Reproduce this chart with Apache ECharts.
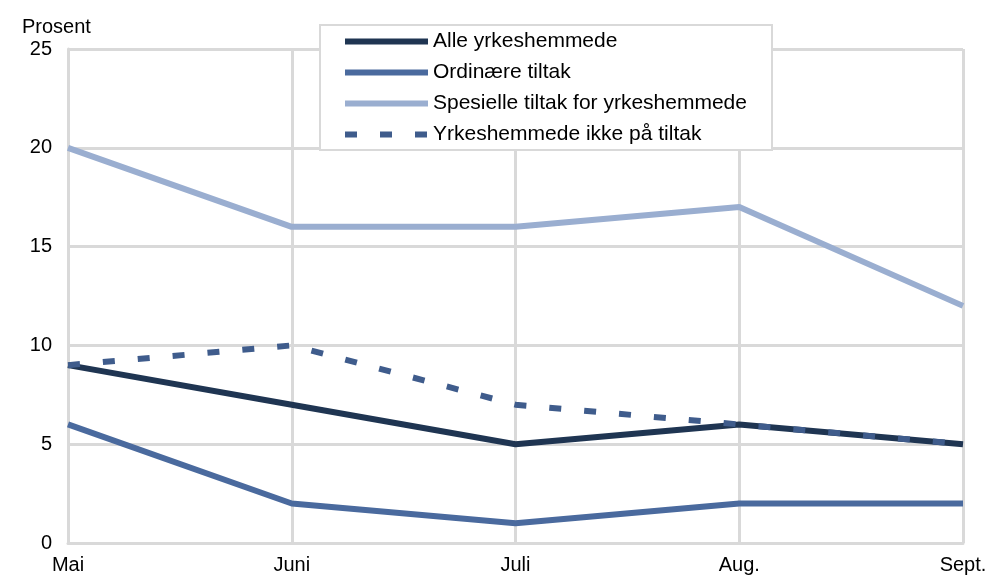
<!DOCTYPE html>
<html>
<head>
<meta charset="utf-8">
<script src="https://cdn.jsdelivr.net/npm/echarts@6/dist/echarts.min.js"></script>
<style>
html, body { margin: 0; padding: 0; background: #fff; }
#chart { width: 990px; height: 579px; }
</style>
</head>
<body>
<div id="chart"></div>
<script>
// data
var months = ['Mai', 'Juni', 'Juli', 'Aug.', 'Sept.'];
var alleYrkeshemmede = [9, 7, 5, 6, 5];
var ordinaereTiltak = [6, 2, 1, 2, 2];
var spesielleTiltak = [20, 16, 16, 17, 12];
var ikkePaTiltak = [9, 10, 7, 6, 5];

var gridColor = '#d9d9d9';
var font = 'Liberation Sans, Arial, sans-serif';

var chart = echarts.init(document.getElementById('chart'));
chart.setOption({
    animation: false,
    textStyle: { fontFamily: font },
    title: {
        text: 'Prosent',
        left: 17,
        top: 12,
        textStyle: { fontSize: 20, fontWeight: 'normal', color: '#000', fontFamily: font }
    },
    grid: {
        left: 68,
        right: 27,
        top: 49,
        bottom: 36
    },
    // ramme rundt legend
    graphic: [{
        type: 'rect',
        z: 3,
        shape: { x: 320, y: 25, width: 452, height: 125 },
        style: { fill: '#fff', stroke: gridColor, lineWidth: 2 }
    }],
    legend: {
        z: 10,
        orient: 'vertical',
        left: 342,
        top: 31,
        padding: 0,
        itemWidth: 83,
        itemHeight: 20,
        itemGap: 10,
        // bare linja, ingen symbol
        itemStyle: { color: 'rgba(0,0,0,0)', borderWidth: 0, opacity: 0 },
        lineStyle: { width: 6 },
        textStyle: { fontSize: 21, lineHeight: 20, color: '#000', fontFamily: font },
        data: ['Alle yrkeshemmede', 'Ordinære tiltak', 'Spesielle tiltak for yrkeshemmede', 'Yrkeshemmede ikke på tiltak']
    },
    xAxis: {
        type: 'category',
        data: months,
        boundaryGap: false,
        axisTick: { show: false },
        axisLine: { lineStyle: { color: gridColor, width: 3 } },
        axisLabel: { color: '#000', fontSize: 20, margin: 12, fontFamily: font },
        splitLine: { show: true, lineStyle: { color: gridColor, width: 3 } }
    },
    yAxis: {
        type: 'value',
        min: 0,
        max: 25,
        interval: 5,
        axisTick: { show: false },
        axisLine: { show: true, lineStyle: { color: gridColor, width: 3 } },
        axisLabel: { color: '#000', fontSize: 20, margin: 16, fontFamily: font },
        splitLine: { show: true, lineStyle: { color: gridColor, width: 3 } }
    },
    series: [
        {
            name: 'Alle yrkeshemmede',
            type: 'line',
            data: alleYrkeshemmede,
            symbol: 'none',
            color: '#1f3552',
            lineStyle: { width: 6, color: '#1f3552' }
        },
        {
            name: 'Ordinære tiltak',
            type: 'line',
            data: ordinaereTiltak,
            symbol: 'none',
            color: '#4a6a9e',
            lineStyle: { width: 6, color: '#4a6a9e' }
        },
        {
            name: 'Spesielle tiltak for yrkeshemmede',
            type: 'line',
            data: spesielleTiltak,
            symbol: 'none',
            color: '#9aaed0',
            lineStyle: { width: 6, color: '#9aaed0' }
        },
        {
            name: 'Yrkeshemmede ikke på tiltak',
            type: 'line',
            data: ikkePaTiltak,
            symbol: 'none',
            color: '#3f5c8c',
            lineStyle: { width: 6, color: '#3f5c8c', type: [12, 23] }
        }
    ]
});
</script>
</body>
</html>
